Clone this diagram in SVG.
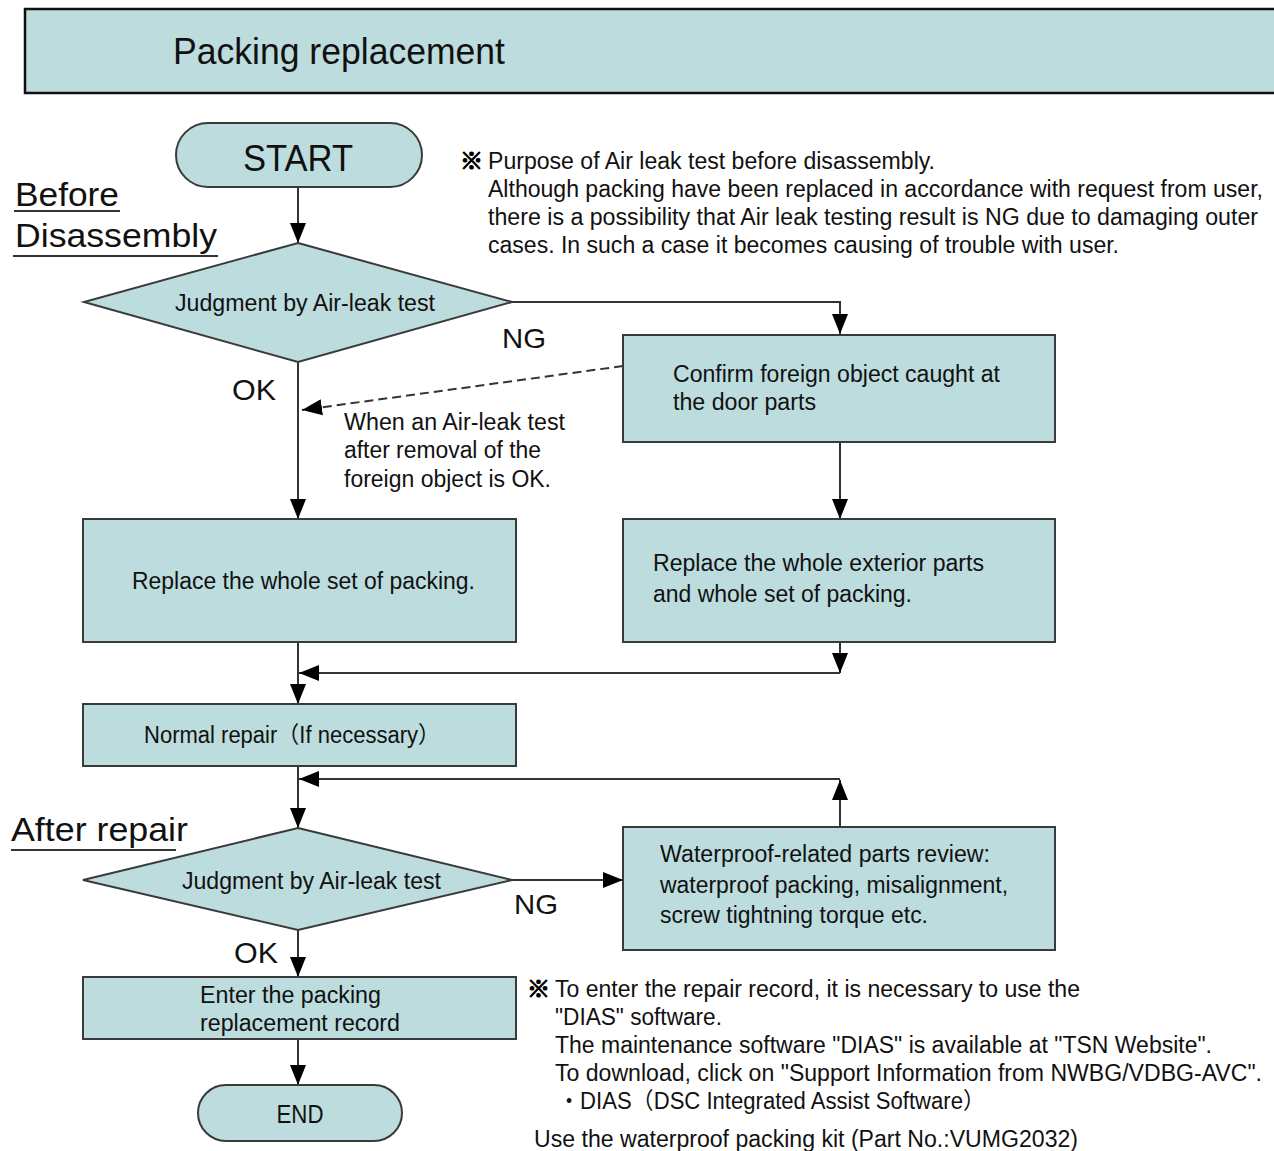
<svg xmlns="http://www.w3.org/2000/svg" width="1274" height="1151" viewBox="0 0 1274 1151">
<style>
.n{fill:#bcdcde;stroke:#3a3a3a;stroke-width:2}
.t{font-family:"Liberation Sans","Noto Sans CJK JP",Arial,sans-serif;fill:#111}
.s{font-size:23px}
.c{stroke:#333;stroke-width:2;fill:none}
.d{stroke-dasharray:9,5}
.j{font-family:"Noto Sans CJK JP","Liberation Sans",sans-serif;fill:#000;stroke:#000;stroke-width:1.2;font-size:23px;font-weight:bold}
</style>
<defs>
<marker id="a" markerUnits="userSpaceOnUse" markerWidth="20" markerHeight="20" viewBox="0 0 20 20" refX="20" refY="10" orient="auto">
<path d="M0,2 L20,10 L0,18 Z" fill="#000"/>
</marker>
</defs>
<rect width="1274" height="1151" fill="#fff"/>
<g id="title">
<rect x="25" y="9" width="1262" height="84" fill="#bcdcde" stroke="#111" stroke-width="2.5"/>
<text class="t" x="173" y="64" font-size="36" textLength="332" lengthAdjust="spacingAndGlyphs">Packing replacement</text>
</g>
<g id="labels">
<text class="t" x="15" y="206" font-size="34" textLength="104" lengthAdjust="spacingAndGlyphs">Before</text>
<line x1="14" y1="211" x2="120" y2="211" stroke="#333" stroke-width="2"/>
<text class="t" x="15" y="247" font-size="34" textLength="202" lengthAdjust="spacingAndGlyphs">Disassembly</text>
<line x1="13" y1="256" x2="218" y2="256" stroke="#333" stroke-width="2"/>
<text class="t" x="11" y="841" font-size="34" textLength="177" lengthAdjust="spacingAndGlyphs">After repair</text>
<line x1="11" y1="850" x2="176" y2="850" stroke="#333" stroke-width="2"/>
<text class="t" x="502" y="348" font-size="28" textLength="44" lengthAdjust="spacingAndGlyphs">NG</text>
<text class="t" x="232" y="400" font-size="30" textLength="44" lengthAdjust="spacingAndGlyphs">OK</text>
<text class="t" x="514" y="914" font-size="28" textLength="44" lengthAdjust="spacingAndGlyphs">NG</text>
<text class="t" x="234" y="963" font-size="30" textLength="44" lengthAdjust="spacingAndGlyphs">OK</text>
<text class="t s" x="344" y="430" textLength="221" lengthAdjust="spacingAndGlyphs">When an Air-leak test</text>
<text class="t s" x="344" y="458" textLength="197" lengthAdjust="spacingAndGlyphs">after removal of the</text>
<text class="t s" x="344" y="487" textLength="207" lengthAdjust="spacingAndGlyphs">foreign object is OK.</text>
</g>
<g id="note1">
<text class="j" x="460" y="169">※</text>
<text class="t s" x="488" y="169" textLength="447" lengthAdjust="spacingAndGlyphs">Purpose of Air leak test before disassembly.</text>
<text class="t s" x="488" y="197" textLength="775" lengthAdjust="spacingAndGlyphs">Although packing have been replaced in accordance with request from user,</text>
<text class="t s" x="488" y="225" textLength="770" lengthAdjust="spacingAndGlyphs">there is a possibility that Air leak testing result is NG due to damaging outer</text>
<text class="t s" x="488" y="253" textLength="631" lengthAdjust="spacingAndGlyphs">cases. In such a case it becomes causing of trouble with user.</text>
</g>
<g id="note2">
<text class="j" x="527" y="997">※</text>
<text class="t s" x="555" y="997" textLength="525" lengthAdjust="spacingAndGlyphs">To enter the repair record, it is necessary to use the</text>
<text class="t s" x="555" y="1025" textLength="167" lengthAdjust="spacingAndGlyphs">"DIAS" software.</text>
<text class="t s" x="555" y="1053" textLength="657" lengthAdjust="spacingAndGlyphs">The maintenance software "DIAS" is available at "TSN Website".</text>
<text class="t s" x="555" y="1081" textLength="707" lengthAdjust="spacingAndGlyphs">To download, click on "Support Information from NWBG/VDBG-AVC".</text>
<text class="t s" x="558" y="1109" textLength="427" lengthAdjust="spacingAndGlyphs">・DIAS（DSC Integrated Assist Software）</text>
<text class="t s" x="534" y="1147" textLength="544" lengthAdjust="spacingAndGlyphs">Use the waterproof packing kit (Part No.:VUMG2032)</text>
</g>
<g id="connectors">
<line class="c" x1="298" y1="187" x2="298" y2="243" marker-end="url(#a)"/>
<polyline class="c" points="512,302 840,302 840,334" marker-end="url(#a)"/>
<line class="c d" x1="623" y1="366" x2="302" y2="410" marker-end="url(#a)"/>
<line class="c" x1="298" y1="362" x2="298" y2="519" marker-end="url(#a)"/>
<line class="c" x1="840" y1="442" x2="840" y2="519" marker-end="url(#a)"/>
<line class="c" x1="840" y1="642" x2="840" y2="673" marker-end="url(#a)"/>
<line class="c" x1="840" y1="673" x2="299" y2="673" marker-end="url(#a)"/>
<line class="c" x1="298" y1="642" x2="298" y2="704" marker-end="url(#a)"/>
<line class="c" x1="298" y1="766" x2="298" y2="828" marker-end="url(#a)"/>
<line class="c" x1="840" y1="827" x2="840" y2="780" marker-end="url(#a)"/>
<line class="c" x1="840" y1="779" x2="299" y2="779" marker-end="url(#a)"/>
<line class="c" x1="512" y1="880" x2="623" y2="880" marker-end="url(#a)"/>
<line class="c" x1="298" y1="930" x2="298" y2="977" marker-end="url(#a)"/>
<line class="c" x1="298" y1="1039" x2="298" y2="1085" marker-end="url(#a)"/>
</g>
<g id="start">
<rect class="n" x="176" y="123" width="246" height="64" rx="32"/>
<text class="t" x="298" y="171" font-size="36" text-anchor="middle" textLength="110" lengthAdjust="spacingAndGlyphs">START</text>
</g>
<g id="judge1">
<polygon class="n" points="298,243 512,302 298,362 84,302"/>
<text class="t s" x="175" y="311" textLength="260" lengthAdjust="spacingAndGlyphs">Judgment by Air-leak test</text>
</g>
<g id="confirm">
<rect class="n" x="623" y="335" width="432" height="107"/>
<text class="t s" x="673" y="382" textLength="327" lengthAdjust="spacingAndGlyphs">Confirm foreign object caught at</text>
<text class="t s" x="673" y="410" textLength="143" lengthAdjust="spacingAndGlyphs">the door parts</text>
</g>
<g id="replace1">
<rect class="n" x="83" y="519" width="433" height="123"/>
<text class="t s" x="132" y="589" textLength="343" lengthAdjust="spacingAndGlyphs">Replace the whole set of packing.</text>
</g>
<g id="replace2">
<rect class="n" x="623" y="519" width="432" height="123"/>
<text class="t s" x="653" y="571" textLength="331" lengthAdjust="spacingAndGlyphs">Replace the whole exterior parts</text>
<text class="t s" x="653" y="602" textLength="259" lengthAdjust="spacingAndGlyphs">and whole set of packing.</text>
</g>
<g id="normal">
<rect class="n" x="83" y="704" width="433" height="62"/>
<text class="t s" x="144" y="743" textLength="296" lengthAdjust="spacingAndGlyphs">Normal repair（If necessary）</text>
</g>
<g id="judge2">
<polygon class="n" points="298,828 512,880 298,930 83,880"/>
<text class="t s" x="182" y="889" textLength="259" lengthAdjust="spacingAndGlyphs">Judgment by Air-leak test</text>
</g>
<g id="review">
<rect class="n" x="623" y="827" width="432" height="123"/>
<text class="t s" x="660" y="862" textLength="330" lengthAdjust="spacingAndGlyphs">Waterproof-related parts review:</text>
<text class="t s" x="660" y="893" textLength="348" lengthAdjust="spacingAndGlyphs">waterproof packing, misalignment,</text>
<text class="t s" x="660" y="923" textLength="268" lengthAdjust="spacingAndGlyphs">screw tightning torque etc.</text>
</g>
<g id="record">
<rect class="n" x="83" y="977" width="433" height="62"/>
<text class="t s" x="200" y="1003" textLength="181" lengthAdjust="spacingAndGlyphs">Enter the packing</text>
<text class="t s" x="200" y="1031" textLength="200" lengthAdjust="spacingAndGlyphs">replacement record</text>
</g>
<g id="end">
<rect class="n" x="198" y="1085" width="204" height="56" rx="28"/>
<text class="t" x="300" y="1123" font-size="26" text-anchor="middle" textLength="47" lengthAdjust="spacingAndGlyphs">END</text>
</g>
</svg>
